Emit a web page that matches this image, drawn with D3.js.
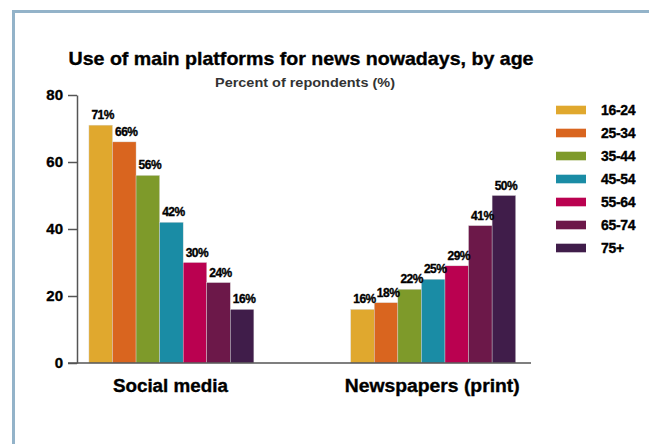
<!DOCTYPE html>
<html>
<head>
<meta charset="utf-8">
<script src="https://cdn.jsdelivr.net/npm/d3@7"></script>
<style>
  body { margin: 0; background: #fff; }
  text { font-family: "Liberation Sans", Arial, sans-serif; font-weight: bold; }
  .heavy { stroke: #000; stroke-width: 0.35px; }
</style>
</head>
<body>
<svg id="chart"></svg>
<script>
const categories = ["Social media", "Newspapers (print)"];
const ageGroups = ["16-24", "25-34", "35-44", "45-54", "55-64", "65-74", "75+"];
const socialMedia = [71, 66, 56, 42, 30, 24, 16];
const newspapers = [16, 18, 22, 25, 29, 41, 50];
const yTicks = [0, 20, 40, 60, 80];
const colors = ["#e0a82e", "#d9651f", "#7e9a2a", "#1a8ca5", "#ba0150", "#6c1849", "#401d4a"];

const width = 649, height = 444;
const svg = d3.select("#chart").attr("width", width).attr("height", height);

// frame
svg.append("rect")
  .attr("x", 13.5).attr("y", 11.5)
  .attr("width", 700).attr("height", 500)
  .attr("fill", "none")
  .attr("stroke", "#93b3c9")
  .attr("stroke-width", 3);

// titles
svg.append("text")
  .attr("class", "heavy")
  .attr("x", 301).attr("y", 65)
  .attr("text-anchor", "middle")
  .attr("font-size", 18.5)
  .attr("textLength", 465).attr("lengthAdjust", "spacingAndGlyphs")
  .attr("fill", "#000")
  .text("Use of main platforms for news nowadays, by age");

svg.append("text")
  .attr("x", 305).attr("y", 86.5)
  .attr("text-anchor", "middle")
  .attr("font-size", 13.5)
  .attr("textLength", 180).attr("lengthAdjust", "spacingAndGlyphs")
  .attr("fill", "#333")
  .text("Percent of repondents (%)");

const data = categories.map((c, i) => ({
  category: c,
  values: (i === 0 ? socialMedia : newspapers).map((v, j) => ({ age: ageGroups[j], value: v }))
}));

const y = d3.scaleLinear().domain([0, 80]).range([363, 95]);

const x0 = d3.scaleBand()
  .domain(categories)
  .range([70.6, 534])
  .paddingInner(0.37)
  .paddingOuter(0.07);

const x1 = d3.scaleBand()
  .domain(ageGroups)
  .range([0, x0.bandwidth()]);

const color = d3.scaleOrdinal().domain(ageGroups).range(colors);

const axisX = 77;

// y axis
const yAxis = svg.append("g")
  .attr("transform", `translate(${axisX},0)`)
  .call(d3.axisLeft(y).tickValues(yTicks).tickSize(9).tickSizeOuter(0).tickPadding(5));
yAxis.select(".domain").attr("stroke", "#555").attr("stroke-width", 1.5);
yAxis.selectAll(".tick line").attr("stroke", "#555").attr("stroke-width", 1.5);
yAxis.selectAll(".tick text")
  .attr("class", "heavy")
  .attr("font-size", 15)
  .attr("font-family", "Liberation Sans, Arial, sans-serif")
  .attr("font-weight", "bold")
  .attr("fill", "#000");

// bars
const groups = svg.append("g").selectAll("g")
  .data(data)
  .join("g")
  .attr("transform", d => `translate(${x0(d.category)},0)`);

groups.selectAll("rect")
  .data(d => d.values)
  .join("rect")
  .attr("x", d => x1(d.age))
  .attr("y", d => y(d.value))
  .attr("width", x1.bandwidth())
  .attr("height", d => y(0) - y(d.value))
  .attr("fill", d => color(d.age))
  .attr("stroke", "#d8d8d8")
  .attr("stroke-width", 0.4);

groups.selectAll("text")
  .data(d => d.values)
  .join("text")
  .attr("class", "heavy")
  .attr("x", d => x1(d.age) + x1.bandwidth() / 2 + 2)
  .attr("y", d => y(d.value) - 6)
  .attr("text-anchor", "middle")
  .attr("font-size", 12)
  .attr("letter-spacing", -0.5)
  .attr("fill", "#000")
  .text(d => d.value + "%");

// x axis line
svg.append("line")
  .attr("x1", axisX - 9).attr("x2", 531)
  .attr("y1", y(0)).attr("y2", y(0))
  .attr("stroke", "#555").attr("stroke-width", 1.5);

// category labels
const catWidths = [115, 175];
svg.append("g").selectAll("text")
  .data(categories)
  .join("text")
  .attr("class", "heavy")
  .attr("x", d => x0(d) + x0.bandwidth() / 2 - 1)
  .attr("y", 392)
  .attr("text-anchor", "middle")
  .attr("font-size", 18)
  .attr("textLength", (d, i) => catWidths[i]).attr("lengthAdjust", "spacingAndGlyphs")
  .attr("fill", "#000")
  .text(d => d);

// legend
const legend = svg.append("g").attr("transform", "translate(556,110)");
const items = legend.selectAll("g")
  .data(ageGroups)
  .join("g")
  .attr("transform", (d, i) => `translate(0,${i * 23})`);
items.append("rect")
  .attr("x", 0).attr("y", -4.3)
  .attr("width", 30).attr("height", 8.6)
  .attr("fill", d => color(d));
items.append("text")
  .attr("class", "heavy")
  .attr("x", 45).attr("y", 0)
  .attr("dy", "0.36em")
  .attr("font-size", 14)
  .attr("letter-spacing", -0.3)
  .attr("fill", "#000")
  .text(d => d);
</script>
</body>
</html>
